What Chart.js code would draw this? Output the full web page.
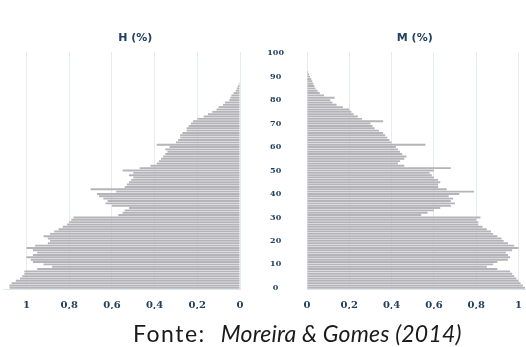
<!DOCTYPE html>
<html>
<head>
<meta charset="utf-8">
<script src="https://cdn.jsdelivr.net/npm/chart.js@4.4.1/dist/chart.umd.min.js"></script>
<style>
body { margin:0; background:#fff; width:526px; height:347px; overflow:hidden; position:relative; }
#left { position:absolute; left:0; top:0; width:250px; height:347px; }
#right { position:absolute; left:262px; top:0; width:270px; height:347px; }
#fonte { position:absolute; left:133px; top:319px; font-family:Lato, sans-serif; font-size:23px; color:#1a1a1a; white-space:nowrap; }
#fonte span { letter-spacing:1.5px; margin-right:15px; }
#fonte i { font-style:italic; letter-spacing:0.2px; }
</style>
</head>
<body>
<div id="left"><canvas id="homens"></canvas></div>
<div id="right"><canvas id="mulheres"></canvas></div>
<div id="fonte"><span>Fonte:</span><i>Moreira &amp; Gomes (2014)</i></div>
<script>
// idades 0..100 (one category per year)
const idades = Array.from({length: 101}, (_, i) => String(i));

// % of population by single age
const homens = [1.08, 1.08, 1.07, 1.05, 1.03, 1.02, 1.01, 1.01, 0.95, 0.88,
                0.92, 0.97, 0.98, 1.00, 0.97, 0.95, 0.97, 1.00, 0.96, 0.90,
                0.89, 0.90, 0.92, 0.89, 0.87, 0.85, 0.83, 0.81, 0.80, 0.79,
                0.78, 0.57, 0.55, 0.54, 0.52, 0.60, 0.63, 0.62, 0.64, 0.66,
                0.67, 0.58, 0.70, 0.54, 0.53, 0.52, 0.51, 0.50, 0.52, 0.50,
                0.55, 0.47, 0.42, 0.39, 0.38, 0.37, 0.36, 0.35, 0.34, 0.35,
                0.33, 0.39, 0.30, 0.29, 0.28, 0.28, 0.27, 0.25, 0.25, 0.24,
                0.23, 0.22, 0.20, 0.17, 0.15, 0.13, 0.11, 0.10, 0.08, 0.07,
                0.05, 0.045, 0.04, 0.03, 0.02, 0.015, 0.01, 0.005];

const mulheres = [1.03, 1.02, 1.01, 1.00, 0.99, 0.98, 0.97, 0.96, 0.90, 0.85,
                  0.88, 0.90, 0.95, 0.96, 0.95, 0.94, 0.97, 1.00, 0.98, 0.95,
                  0.93, 0.92, 0.90, 0.88, 0.87, 0.85, 0.83, 0.81, 0.81, 0.80,
                  0.82, 0.54, 0.57, 0.60, 0.63, 0.68, 0.70, 0.68, 0.69, 0.67,
                  0.72, 0.79, 0.66, 0.62, 0.62, 0.63, 0.62, 0.60, 0.59, 0.58,
                  0.60, 0.68, 0.46, 0.43, 0.44, 0.46, 0.47, 0.45, 0.44, 0.43,
                  0.42, 0.56, 0.40, 0.39, 0.38, 0.37, 0.36, 0.34, 0.32, 0.31,
                  0.30, 0.36, 0.26, 0.24, 0.22, 0.21, 0.20, 0.17, 0.14, 0.12,
                  0.11, 0.13, 0.08, 0.06, 0.05, 0.04, 0.035, 0.03, 0.025, 0.02,
                  0.015, 0.01, 0.005];

const x_tick_values = [0, 0.2, 0.4, 0.6, 0.8, 1];
const x_tick_labels = ['0', '0,2', '0,4', '0,6', '0,8', '1'];

const bar_color = '#b5b5b9';
const tick_color = '#22405f';
const grid_color = '#e3ebf3';

// draws "H (%)" / "M (%)" over the middle of each panel
const panel_title = {
    id: 'panel_title',
    afterDraw(chart, args, opts) {
        const ctx = chart.ctx;
        const x = chart.scales.x.getPixelForValue(0.5) + 2;
        ctx.save();
        ctx.font = 'bold 11px "DejaVu Sans"';
        ctx.fillStyle = tick_color;
        ctx.textAlign = 'center';
        ctx.textBaseline = 'middle';
        ctx.fillText(opts.text, x, 38);
        ctx.restore();
    }
};

function make_options(title, reverse, max_value, pad, show_ages)
{
    return {
        indexAxis: 'y',
        responsive: true,
        maintainAspectRatio: false,
        animation: false,
        layout: { padding: pad },
        plugins: {
            legend: { display: false },
            tooltip: { enabled: false },
            panel_title: { text: title }
        },
        scales: {
            x: {
                type: 'linear',
                reverse: reverse,
                min: 0,
                max: max_value,
                afterBuildTicks: (scale) => { scale.ticks = x_tick_values.map(v => ({ value: v })); },
                afterFit: (scale) => { scale.height = 20; },
                grid: { color: grid_color, drawTicks: false },
                border: { display: true, color: '#dde5ee' },
                ticks: {
                    padding: 10,
                    color: tick_color,
                    font: { family: 'DejaVu Serif', size: 10, weight: 'bold' },
                    callback: (v) => x_tick_labels[x_tick_values.indexOf(v)]
                }
            },
            y: {
                type: 'category',
                reverse: true,
                display: show_ages,
                afterFit: (scale) => { scale.width = show_ages ? 40 : 0; },
                grid: { display: false, drawTicks: false },
                border: { display: false },
                ticks: {
                    autoSkip: false,
                    crossAlign: 'center',
                    padding: 23,
                    color: tick_color,
                    font: { family: 'DejaVu Serif', size: 8, weight: 'bold' },
                    callback: function(v) {
                        const lab = this.getLabelForValue(v);
                        return Number(lab) % 10 === 0 ? lab : '';
                    }
                }
            }
        }
    };
}

const ctx_homens = document.getElementById('homens').getContext('2d');
const chart_homens = new Chart(ctx_homens, {
    type: 'bar',
    data: {
        labels: idades,
        datasets: [{
            label: 'H (%)',
            data: homens,
            backgroundColor: bar_color,
            barPercentage: 0.82,
            categoryPercentage: 1.0
        }]
    },
    options: make_options('H (%)', true, 1.11, { left: 3, right: 10, top: 52, bottom: 38 }, false),
    plugins: [panel_title]
});

const ctx_mulheres = document.getElementById('mulheres').getContext('2d');
const chart_mulheres = new Chart(ctx_mulheres, {
    type: 'bar',
    data: {
        labels: idades,
        datasets: [{
            label: 'M (%)',
            data: mulheres,
            backgroundColor: bar_color,
            barPercentage: 0.82,
            categoryPercentage: 1.0
        }]
    },
    options: make_options('M (%)', false, 1.033, { left: 5, right: 0, top: 52, bottom: 38 }, true),
    plugins: [panel_title]
});
</script>
</body>
</html>
